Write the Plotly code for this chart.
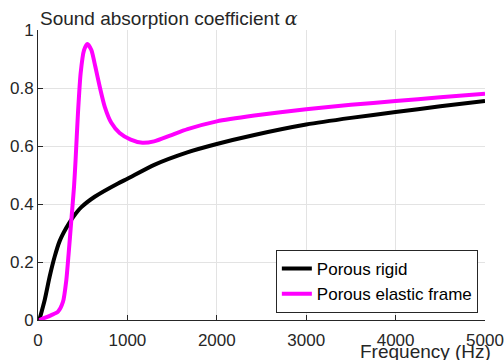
import plotly.graph_objects as go

freq_rigid = [15, 75, 130, 186, 242, 317, 391, 485, 634, 895, 1000, 1300, 1670, 2000, 2420, 3000, 3500, 4000, 4500, 5000]
alpha_rigid = [0.0, 0.069, 0.149, 0.218, 0.272, 0.318, 0.354, 0.389, 0.425, 0.471, 0.487, 0.535, 0.578, 0.607, 0.638, 0.674, 0.697, 0.717, 0.737, 0.755]

freq_elastic = [15, 149, 224, 280, 317, 343, 373, 403, 420, 447, 477, 515, 552, 597, 641, 690, 746, 820, 913,
                1037, 1168, 1298, 1485, 1673, 2000, 2420, 3000, 3500, 4000, 4500, 5000]
alpha_elastic = [0.0, 0.017, 0.029, 0.063, 0.138, 0.23, 0.345, 0.46, 0.55, 0.713, 0.851, 0.931, 0.952, 0.931, 0.874,
                 0.805, 0.736, 0.68, 0.645, 0.622, 0.611, 0.616, 0.637, 0.658, 0.685, 0.705, 0.727, 0.742, 0.755, 0.768, 0.78]

x_ticks = [0, 1000, 2000, 3000, 4000, 5000]
y_ticks = [0, 0.2, 0.4, 0.6, 0.8, 1]
y_tick_labels = ["0", "0.2", "0.4", "0.6", "0.8", "1"]

fig = go.Figure()
fig.add_trace(go.Scatter(x=freq_rigid, y=alpha_rigid, mode="lines", name="Porous rigid",
                         line=dict(color="black", width=4, shape="spline", smoothing=0.6)))
fig.add_trace(go.Scatter(x=freq_elastic, y=alpha_elastic, mode="lines", name="Porous elastic frame",
                         line=dict(color="#ff00ff", width=4, shape="spline", smoothing=0.6)))

font = "Liberation Sans, Arial, sans-serif"
axis_common = dict(ticks="inside", ticklen=5, tickcolor="#262626", showgrid=True, gridcolor="#e3e3e3",
                   showline=True, linecolor="#262626", linewidth=1, zeroline=False,
                   tickfont=dict(size=17, color="#262626"), automargin=False)
fig.update_layout(
    width=504, height=360,
    margin=dict(l=38, r=19, t=30, b=40),
    paper_bgcolor="white", plot_bgcolor="white",
    font=dict(family=font, size=17, color="#262626"),
    showlegend=True,
    legend=dict(x=0.984, y=0.024, xanchor="right", yanchor="bottom",
                bgcolor="white", bordercolor="#262626", borderwidth=1,
                font=dict(size=17, color="black"), itemwidth=30,
                tracegroupgap=0),
    xaxis=dict(range=[0, 5000], tickvals=x_ticks, ticklabelstandoff=5, **axis_common),
    yaxis=dict(range=[0, 1], tickvals=y_ticks, ticktext=y_tick_labels, **axis_common),
    annotations=[
        dict(text="Sound absorption coefficient <span style='font-family:DejaVu Serif, serif;font-style:italic'>α</span>",
             xref="paper", yref="paper", x=0, y=1.0, xanchor="left", yanchor="middle",
             yshift=12, showarrow=False, font=dict(size=19, color="#262626")),
        dict(text="Frequency (Hz)", xref="paper", yref="paper", x=1.018, y=0,
             xanchor="right", yanchor="middle", yshift=-31, showarrow=False,
             font=dict(size=19, color="#262626")),
    ],
)
fig.write_html("out.html")
